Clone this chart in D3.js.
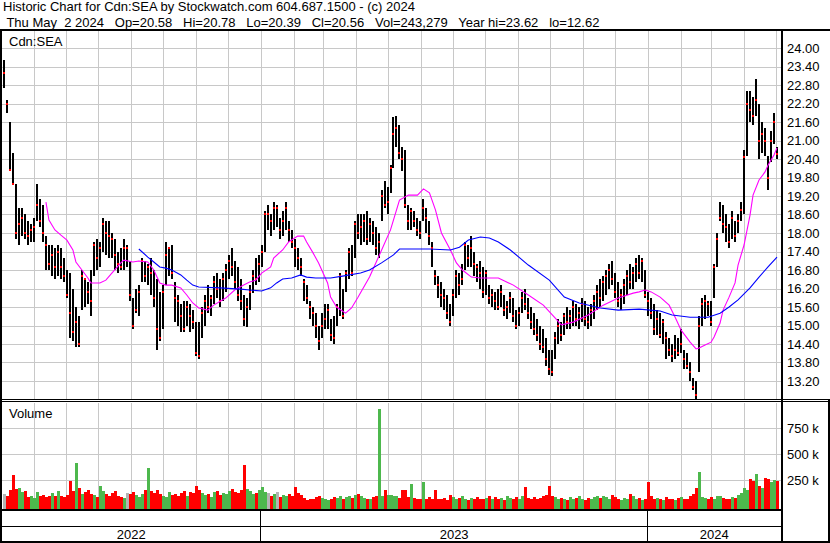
<!DOCTYPE html>
<html><head><meta charset="utf-8">
<script src="https://cdn.jsdelivr.net/npm/d3@7"></script>
<style>
html,body{margin:0;padding:0;background:#fff;}
svg{display:block;font-family:"Liberation Sans",Arial,sans-serif;}
text{white-space:pre;}
</style></head><body>
<svg id="c" width="830" height="543"></svg>
<script>
// ---------------- data ----------------
const headerLines = [
  "Historic Chart for Cdn:SEA by Stockwatch.com 604.687.1500 - (c) 2024",
  " Thu May  2 2024   Op=20.58   Hi=20.78   Lo=20.39   Cl=20.56   Vol=243,279   Year hi=23.62   lo=12.62"
];
const symbolLabel = "Cdn:SEA";
const volumeLabel = "Volume";
const startDate = new Date(2022, 4, 3);
const endDate = new Date(2024, 4, 2);
const yearLabels = ["2022", "2023", "2024"];
const yearStarts = [new Date(2023, 0, 1), new Date(2024, 0, 1)];
const priceTicks = [13.2,13.8,14.4,15.0,15.6,16.2,16.8,17.4,18.0,18.6,19.2,19.8,20.4,21.0,21.6,22.2,22.8,23.4,24.0];
const volTicks = [250, 500, 750]; // thousands

const hi = [
23.62,22.3,21.6,20.6,19.6,18.8,18.8,18.6,18.4,18.3,
18.5,19.6,19.1,18.9,17.9,17.6,17.6,17.5,17.6,17.5,
17.2,16.8,16.7,16.2,15.6,15.3,16.8,16.5,16.4,16.8,
17.7,17.8,17.7,18.5,18.4,18.4,18.0,17.8,17.4,17.5,
17.8,17.6,17.1,15.9,16.2,16.3,17.2,17.1,17.0,17.2,
16.8,16.5,16.1,16.3,17.7,17.5,17.6,16.4,16.0,15.7,
15.8,15.8,15.7,15.5,15.1,15.1,15.6,16.0,16.3,16.0,
16.6,16.7,16.5,16.7,17.0,17.3,17.5,17.1,16.9,16.5,
16.0,15.9,16.3,16.8,17.2,17.3,17.6,18.7,18.9,18.6,
19.0,18.9,18.5,18.7,19.0,18.4,18.1,17.8,17.5,17.2,
16.5,16.3,15.8,15.6,15.4,15.0,15.4,15.7,15.7,15.2,
15.3,15.7,16.7,16.2,16.8,17.5,17.6,18.4,18.6,18.6,
18.6,18.7,18.5,18.4,18.2,18.0,19.4,19.7,19.5,20.2,
21.75,21.8,21.5,20.8,20.7,18.9,18.8,18.7,18.5,18.4,
19.1,18.8,18.4,17.7,16.8,16.6,16.4,16.2,16.0,15.7,
16.2,16.8,16.7,17.0,17.7,17.6,17.9,17.4,17.0,17.1,
16.9,16.8,16.3,16.2,16.1,16.2,16.3,16.0,15.8,16.1,
15.9,15.5,15.6,16.1,16.2,15.9,15.6,15.4,15.2,15.0,
14.9,14.6,14.2,14.2,14.8,15.2,15.1,15.4,15.6,15.5,
15.8,15.7,15.6,15.9,15.8,15.6,15.7,16.0,16.3,16.5,
16.6,16.8,17.0,17.1,16.7,16.4,16.2,16.5,16.8,17.0,
16.9,17.2,17.3,17.2,16.8,16.1,15.9,15.7,15.5,15.4,
15.2,14.8,14.6,14.4,14.7,14.6,14.9,14.2,14.1,13.8,
13.3,13.2,15.3,15.9,16.0,15.8,15.8,17.0,18.0,19.0,
18.9,18.6,18.3,18.7,18.4,18.6,19.0,20.7,22.6,22.6,
22.4,23.0,22.2,21.6,21.4,20.5,21.3,21.9,20.78
];
const lo = [
22.7,21.9,20.0,19.55,17.8,17.6,17.9,17.8,17.6,17.7,
17.7,18.4,18.2,17.7,16.8,16.8,16.6,16.5,16.6,16.5,
16.4,15.9,14.6,14.5,14.3,14.3,15.5,15.6,15.7,15.3,
16.6,16.8,16.9,17.4,17.3,17.2,17.2,16.8,16.7,16.8,
16.8,16.9,15.8,14.9,15.4,15.3,16.4,16.4,16.3,16.0,
15.6,14.2,14.5,14.9,16.3,16.6,16.5,15.1,15.0,14.8,
14.8,15.0,14.8,14.9,14.0,13.9,14.6,15.0,15.4,15.3,
15.7,15.9,15.6,15.8,16.1,16.5,16.6,16.2,15.8,15.5,
15.0,14.95,15.5,16.05,16.3,16.4,16.9,17.4,18.1,17.9,
18.1,18.2,17.8,17.9,18.1,17.7,17.5,16.9,16.8,16.6,
15.8,15.7,15.2,15.0,14.6,14.2,14.6,14.9,14.9,14.5,
14.4,15.0,15.3,15.2,16.1,16.5,16.6,17.2,17.8,17.6,
17.7,17.6,17.7,17.6,17.3,17.2,18.4,18.8,18.6,19.3,
20.1,20.8,20.4,20.0,18.8,18.1,18.1,18.2,17.9,17.8,
18.4,18.0,17.6,16.9,16.3,15.9,15.6,15.5,15.2,15.0,
15.3,15.9,16.0,16.3,16.8,16.9,16.9,16.6,16.4,16.2,
15.9,16.0,15.7,15.6,15.5,15.5,15.6,15.3,15.2,15.4,
15.1,14.9,15.0,15.4,15.5,15.2,14.9,14.7,14.5,14.2,
14.1,13.7,13.4,13.35,13.9,14.4,14.5,14.7,14.9,14.9,
15.0,15.0,14.9,15.1,15.0,14.9,15.0,15.2,15.5,15.6,
15.8,16.0,16.2,16.3,15.9,15.6,15.5,15.7,16.0,16.2,
16.2,16.4,16.5,16.4,15.9,15.3,15.2,14.7,14.7,14.6,
14.4,13.9,14.0,13.8,13.9,14.0,14.1,13.6,13.6,13.2,
12.9,12.62,13.5,15.0,15.2,15.3,15.0,15.9,16.9,18.4,
18.0,17.7,17.5,17.8,17.7,18.0,18.4,18.6,20.5,21.6,
21.5,21.8,20.4,20.6,20.5,19.4,20.3,20.9,20.39
];
const cl = [
23.2,22.2,20.05,19.6,18.0,18.3,18.5,18.0,17.9,18.1,
18.2,18.9,18.4,18.0,17.6,17.0,17.3,16.9,17.4,16.9,
16.6,16.0,15.4,14.8,15.1,14.4,16.6,16.5,16.1,15.8,
17.6,17.2,17.5,18.3,18.0,17.9,17.8,17.3,17.0,16.9,
17.5,17.5,16.0,15.0,15.5,16.1,17.1,16.6,16.9,16.7,
15.9,14.9,14.6,16.1,17.3,17.5,16.7,15.9,15.8,15.3,
14.9,15.6,15.3,15.1,14.1,14.0,15.4,15.8,15.6,15.9,
16.4,16.2,15.8,16.5,16.8,17.1,16.9,16.4,16.0,15.8,
15.2,15.6,16.1,16.6,16.5,17.0,17.4,18.6,18.6,18.4,
18.8,18.8,18.1,18.4,18.8,18.1,17.7,17.5,17.2,16.9,
16.4,15.9,15.6,15.4,15.0,14.5,15.0,15.2,15.5,14.7,
14.6,15.6,16.6,15.3,16.7,17.4,16.7,18.3,18.0,18.2,
18.4,17.8,18.3,18.0,17.5,17.7,19.2,18.9,19.0,20.1,
21.2,21.4,20.6,20.4,18.9,18.4,18.7,18.4,18.1,18.0,
18.8,18.5,17.9,17.5,16.6,16.3,16.0,15.9,15.4,15.1,
16.0,16.6,16.3,16.5,17.6,17.2,17.5,17.0,16.9,16.7,
16.1,16.7,15.9,16.0,15.8,15.6,16.1,15.5,15.6,15.9,
15.3,15.0,15.4,15.9,15.7,15.4,15.1,14.9,14.7,14.4,
14.3,13.9,13.6,13.5,14.6,15.0,14.7,15.3,15.1,15.3,
15.6,15.2,15.4,15.7,15.2,15.1,15.5,15.8,16.1,15.9,
16.4,16.6,16.8,16.5,16.1,15.8,16.0,16.3,16.6,16.4,
16.7,17.0,16.7,17.1,16.0,15.8,15.4,14.9,15.2,14.7,
15.1,14.6,14.2,14.0,14.2,14.1,14.4,13.9,13.7,13.5,
13.0,12.75,15.0,15.7,15.8,15.7,15.1,16.9,17.8,18.5,
18.3,18.2,17.7,18.5,17.9,18.4,18.75,20.45,22.2,22.0,
21.8,22.3,21.0,21.2,21.0,19.8,21.0,21.6,20.56
];
const volK = [
120,100,160,300,170,175,140,150,90,100,
80,140,100,110,90,95,130,100,150,100,
90,110,240,150,420,180,120,140,160,120,
110,90,200,150,120,100,130,150,100,90,
80,130,120,140,110,90,120,160,370,150,
130,160,120,100,90,140,110,120,100,130,
150,100,140,130,200,160,130,110,120,90,
140,150,110,130,120,150,170,140,130,160,
400,170,150,120,130,160,190,140,130,100,
120,140,90,110,100,120,100,190,130,110,
80,60,70,75,90,100,80,70,60,75,
90,80,95,75,90,100,80,110,120,95,
80,75,70,90,95,940,100,160,110,105,
100,95,80,155,160,90,215,80,75,75,
230,70,90,75,160,75,70,80,60,110,
90,70,80,95,75,60,80,70,90,75,
70,80,95,75,90,70,80,60,95,80,
75,90,70,100,190,80,70,90,75,80,
95,110,200,100,90,75,80,70,60,90,
75,80,95,70,60,80,75,90,100,80,
95,90,70,110,90,75,60,80,70,120,
95,75,80,60,70,230,100,75,80,70,
60,90,75,70,60,80,90,70,75,100,
120,180,330,90,80,70,90,75,100,95,
80,75,70,90,80,110,130,180,160,260,
240,310,200,180,270,260,230,250,243
];
// moving averages, sampled at bar indexes
const magIdx = [14,15,17,19,21,23,24,26,28,29,32,34,36,39,40,43,45,48,50,52,54,56,59,61,63,65,68,70,74,77,80,82,84,86,89,90,93,95,98,100,101,103,105,108,109,111,114,116,118,122,125,129,132,135,138,140,142,144,146,149,151,153,156,159,162,165,170,175,180,184,186,190,195,200,205,210,212,214,216,219,222,224,226,229,231,232,234,236,237,239,240,242,244,245,247,249,250,252,254,255,257,258];
const magVal = [19.0,18.42,18.1,17.93,17.77,17.45,17.06,16.8,16.54,16.38,16.38,16.47,16.7,17.03,17.12,17.06,17.09,17.06,16.8,16.38,16.31,16.31,16.22,15.99,15.73,15.57,15.5,15.66,15.89,16.15,16.31,16.41,16.47,16.7,16.9,17.19,17.45,17.71,17.9,17.9,17.71,17.38,17.03,16.38,15.92,15.6,15.4,15.57,15.89,16.57,17.22,18.1,19.07,19.23,19.23,19.43,19.3,18.75,18.0,17.45,17.03,16.8,16.57,16.54,16.54,16.54,16.31,15.99,15.66,15.24,15.02,15.11,15.34,15.66,15.89,16.05,16.09,16.15,16.09,15.92,15.66,15.27,14.85,14.46,14.24,14.27,14.37,14.46,14.63,15.08,15.5,15.92,16.38,16.96,17.61,18.58,19.23,19.72,19.98,20.2,20.53,20.76];
const bluIdx = [45,48,50,52,54,56,59,61,63,65,72,79,82,86,89,91,93,96,99,101,104,109,113,119,122,126,130,132,142,149,152,155,159,162,165,169,175,182,187,192,199,205,212,219,223,229,235,239,242,245,249,252,255,258];
const bluVal = [17.48,17.22,17.06,16.9,16.86,16.8,16.64,16.47,16.31,16.25,16.22,16.18,16.15,16.12,16.22,16.38,16.51,16.54,16.64,16.57,16.54,16.54,16.6,16.7,16.8,17.03,17.29,17.48,17.48,17.45,17.54,17.77,17.87,17.84,17.71,17.45,16.96,16.47,15.92,15.73,15.57,15.5,15.53,15.47,15.34,15.27,15.27,15.4,15.6,15.83,16.22,16.57,16.9,17.22];

// ---------------- chart ----------------
const svg = d3.select("#c");
const GRID = "#c8c8c8";
const N = cl.length;
const plotL = 2, plotR = 781;
const priceTop = 31, priceBot = 400, volTop = 403, volBot = 509;

const xT = d3.scaleTime().domain([startDate, endDate]).range([3, 777]);
const xI = d3.scaleLinear().domain([0, N - 1]).range([4, 777]);
const yP = d3.scaleLinear().domain([13.2, 24.0]).range([381, 48]);
const yV = d3.scaleLinear().domain([0, 750]).range([506.3, 428.3]);

svg.append("rect").attr("width", 830).attr("height", 543).attr("fill", "#fff");

const g = svg.append("g").attr("shape-rendering", "crispEdges");

// month gridlines
const months = d3.timeMonth.range(new Date(2022, 5, 1), endDate);
months.forEach(m => {
  const x = Math.round(xT(m)) + 0.5;
  g.append("line").attr("x1", x).attr("x2", x).attr("y1", priceTop).attr("y2", priceBot).attr("stroke", GRID);
  g.append("line").attr("x1", x).attr("x2", x).attr("y1", volTop).attr("y2", volBot).attr("stroke", GRID);
});
// price gridlines
priceTicks.forEach(t => {
  const y = Math.round(yP(t)) + 0.5;
  g.append("line").attr("x1", plotL).attr("x2", plotR).attr("y1", y).attr("y2", y).attr("stroke", GRID);
});
volTicks.forEach(t => {
  const y = Math.round(yV(t)) + 0.5;
  g.append("line").attr("x1", plotL).attr("x2", plotR).attr("y1", y).attr("y2", y).attr("stroke", GRID);
});

// clip for price panel
svg.append("clipPath").attr("id", "pc").append("rect")
  .attr("x", plotL).attr("y", priceTop).attr("width", plotR - plotL).attr("height", priceBot - priceTop - 1);

const pg = svg.append("g").attr("clip-path", "url(#pc)");
const idx = d3.range(N);

// price bars
pg.append("g").attr("shape-rendering", "crispEdges").selectAll("rect").data(idx).join("rect")
  .attr("x", i => Math.round(xI(i)) - 1)
  .attr("width", 2)
  .attr("y", i => Math.round(yP(hi[i])))
  .attr("height", i => Math.max(1, Math.round(yP(lo[i])) - Math.round(yP(hi[i]))))
  .attr("fill", "#000");
// close markers
pg.append("g").attr("shape-rendering", "crispEdges").selectAll("rect").data(idx).join("rect")
  .attr("x", i => Math.round(xI(i)) - 1)
  .attr("width", 2)
  .attr("y", i => Math.round(yP(cl[i])) - 1)
  .attr("height", 2)
  .attr("fill", "#ff0000");

// moving averages
const line = d3.line().x(d => xI(d[0])).y(d => yP(d[1]));
pg.append("path").datum(magIdx.map((i, k) => [i, magVal[k]]))
  .attr("d", line).attr("fill", "none").attr("stroke", "#ff00ff").attr("stroke-width", 1.1);
pg.append("path").datum(bluIdx.map((i, k) => [i, bluVal[k]]))
  .attr("d", line).attr("fill", "none").attr("stroke", "#0000ff").attr("stroke-width", 1.1);

// volume bars
g.append("g").selectAll("rect").data(idx).join("rect")
  .attr("x", i => Math.round(xI(i)) - 1)
  .attr("width", 3)
  .attr("y", i => Math.round(yV(volK[i])))
  .attr("height", i => volBot - Math.round(yV(volK[i])))
  .attr("fill", i => i === 0 || cl[i] === cl[i - 1] ? "#b4b4b4" : (cl[i] > cl[i - 1] ? "#4db84d" : "#ff0000"));

// frame lines
const blk = (x, y, w, h) => g.append("rect").attr("x", x).attr("y", y).attr("width", w).attr("height", h).attr("fill", "#000");
blk(0, 29, 830, 2);
blk(0, 29, 2, 514);
blk(781, 29, 2, 514);
blk(0, 399, 830, 1);
blk(0, 401, 830, 1);
blk(0, 509, 783, 2);
blk(0, 526, 783, 1);
blk(0, 541, 830, 2);
blk(828, 399, 2, 144);
yearStarts.forEach(d => blk(Math.round(xT(d)) - 1, 510, 1, 31));

// texts
const txt = (s, x, y, anchor) => svg.append("text").attr("x", x).attr("y", y)
  .attr("font-size", 13).attr("fill", "#000").attr("text-anchor", anchor || "start").text(s);
txt(headerLines[0], 3, 11);
txt(headerLines[1], 3, 26.5);
txt(symbolLabel, 9, 46);
txt(volumeLabel, 9, 418);
priceTicks.forEach(t => txt(t.toFixed(2), 787, yP(t) + 4.6));
volTicks.forEach(t => txt(t + " k", 787, yV(t) + 4.6));
const bounds = [plotL, ...yearStarts.map(d => xT(d)), plotR];
yearLabels.forEach((s, k) => txt(s, (bounds[k] + bounds[k + 1]) / 2, 539, "middle"));
</script>
</body></html>
